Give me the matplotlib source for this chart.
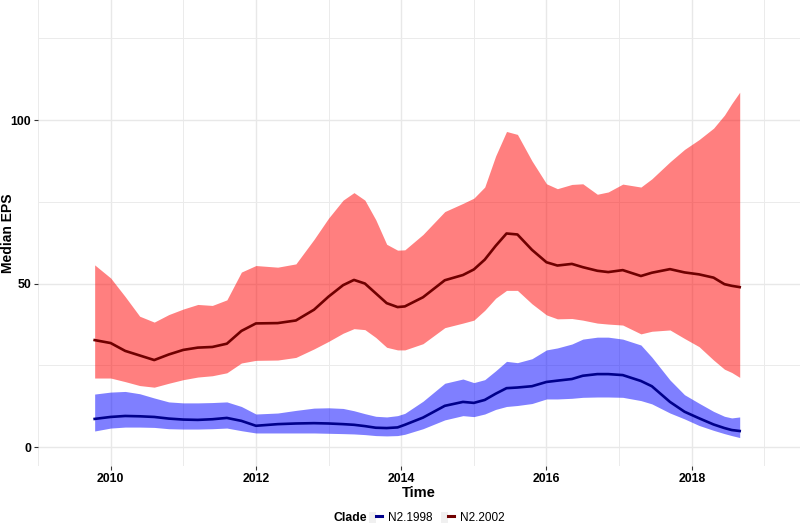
import matplotlib
matplotlib.use("Agg")
import matplotlib.pyplot as plt
from matplotlib.lines import Line2D
from matplotlib.patches import Rectangle
from matplotlib.legend_handler import HandlerTuple
import numpy as np

plt.rcParams['font.family'] = ['Liberation Sans', 'DejaVu Sans']

# time grid (decimal years)
time = [2009.78, 2010.0, 2010.2, 2010.4, 2010.6, 2010.8, 2011.0, 2011.2, 2011.4, 2011.6,
        2011.8, 2012.0, 2012.3, 2012.55, 2012.8, 2013.0, 2013.2, 2013.35, 2013.5, 2013.65,
        2013.8, 2013.95, 2014.05, 2014.3, 2014.6, 2014.85, 2015.0, 2015.15, 2015.3, 2015.45,
        2015.6, 2015.8, 2016.0, 2016.15, 2016.35, 2016.5, 2016.7, 2016.85, 2017.05, 2017.3,
        2017.45, 2017.7, 2017.9, 2018.1, 2018.3, 2018.45, 2018.55, 2018.66]

# N2.2002
n2002_upper = [55.7, 51.7, 46.0, 40.0, 38.2, 40.5, 42.2, 43.6, 43.3, 45.0,
               53.5, 55.5, 55.0, 56.0, 63.5, 70.0, 75.5, 77.8, 75.5, 69.5,
               62.0, 60.2, 60.3, 65.0, 72.0, 74.5, 76.1, 79.5, 89.0, 96.5,
               95.6, 87.5, 80.5, 79.0, 80.3, 80.5, 77.3, 78.0, 80.4, 79.5,
               82.0, 87.2, 91.0, 94.0, 97.5, 101.5, 105.0, 108.5]
n2002_lower = [21.1, 21.1, 20.0, 18.8, 18.3, 19.5, 20.6, 21.4, 21.8, 22.7,
               25.7, 26.5, 26.6, 27.4, 30.0, 32.3, 34.8, 36.2, 35.9, 33.5,
               30.5, 29.7, 29.7, 31.6, 36.5, 37.9, 38.8, 41.8, 45.5, 47.9,
               47.9, 43.8, 40.4, 39.2, 39.3, 38.8, 37.9, 37.6, 37.3, 34.6,
               35.4, 35.8, 33.2, 30.7, 26.6, 23.8, 22.8, 21.3]
n2002_median = [32.7, 31.8, 29.4, 28.0, 26.6, 28.3, 29.7, 30.4, 30.6, 31.6,
                35.5, 37.8, 37.9, 38.7, 42.0, 46.0, 49.5, 51.1, 50.0, 47.0,
                44.0, 42.8, 43.0, 45.8, 51.0, 52.6, 54.3, 57.3, 61.5, 65.3,
                65.0, 60.3, 56.5, 55.5, 56.0, 55.0, 53.9, 53.5, 54.1, 52.3,
                53.3, 54.4, 53.4, 52.8, 51.8, 49.8, 49.3, 48.9]

# N2.1998
n1998_upper = [16.2, 16.8, 17.0, 16.3, 15.0, 13.8, 13.5, 13.5, 13.6, 13.8,
               12.4, 10.1, 10.4, 11.2, 11.9, 12.0, 11.8, 11.1, 10.2, 9.4,
               9.2, 9.6, 10.3, 14.0, 19.5, 20.8, 19.7, 20.6, 23.3, 26.2,
               25.8, 27.0, 29.7, 30.3, 31.5, 33.0, 33.6, 33.6, 33.0, 31.2,
               27.5, 20.5, 16.0, 13.4, 10.9, 9.4, 8.9, 9.2]
n1998_lower = [4.9, 5.8, 6.1, 6.1, 6.0, 5.6, 5.5, 5.5, 5.6, 5.8,
               5.0, 4.3, 4.3, 4.3, 4.3, 4.2, 4.1, 4.0, 3.8, 3.5,
               3.4, 3.5, 3.9, 5.6, 8.3, 9.6, 9.3, 10.1, 11.5, 12.4,
               12.7, 13.3, 14.7, 14.7, 14.9, 15.2, 15.3, 15.3, 15.2, 14.2,
               13.2, 10.4, 8.6, 6.6, 5.1, 4.1, 3.5, 2.9]
n1998_median = [8.6, 9.2, 9.5, 9.4, 9.2, 8.7, 8.4, 8.3, 8.5, 8.9,
                8.0, 6.5, 7.0, 7.2, 7.3, 7.2, 7.0, 6.8, 6.4, 5.9,
                5.8, 6.0, 6.8, 9.0, 12.6, 13.8, 13.5, 14.4, 16.3, 18.0,
                18.2, 18.6, 19.9, 20.3, 20.8, 21.8, 22.3, 22.3, 22.0, 20.2,
                18.6, 13.8, 10.8, 8.8, 6.9, 5.8, 5.2, 4.9]

clades = ['N2.1998', 'N2.2002']
line_colors = ['#00008B', '#700000']
fill_colors = ['#0000FF', '#FF0000']

fig = plt.figure(figsize=(8, 5.26), dpi=100)
ax = fig.add_axes([38/800, 1 - 466/526, 1 - 38/800, 466/526])

series = [(n1998_lower, n1998_upper, n1998_median), (n2002_lower, n2002_upper, n2002_median)]
for (lo, hi, med), lc, fc in zip(series, line_colors, fill_colors):
    ax.fill_between(time, lo, hi, color=fc, alpha=0.5, linewidth=0, zorder=2)
    ax.plot(time, med, color=lc, linewidth=1.9, zorder=3)

ax.set_xlim(2009.19, 2019.49)
ax.set_ylim(-5.8, 136.7)
ax.set_xticks([2010, 2012, 2014, 2016, 2018])
ax.set_xticks([2009, 2011, 2013, 2015, 2017, 2019], minor=True)
ax.set_yticks([0, 50, 100])
ax.set_yticks([25, 75, 125], minor=True)
ax.grid(which='major', color='#E8E8E8', linewidth=1.0, zorder=0)
ax.grid(which='minor', color='#EBEBEB', linewidth=0.7, zorder=0)
ax.set_axisbelow(True)
for s in ax.spines.values():
    s.set_visible(False)
ax.tick_params(which='major', length=3, width=0.8, color='#333333', pad=2,
               labelsize=8.8, labelcolor='black')
ax.tick_params(which='minor', length=0)
for lab in ax.get_xticklabels() + ax.get_yticklabels():
    lab.set_fontweight('bold')

ax.set_xlabel('Time', fontsize=10.5, fontweight='bold', labelpad=1)
fig.text(8/800, 1 - 233/526, 'Median EPS', rotation=90, fontsize=10,
         fontweight='bold', ha='center', va='center')

# legend at bottom
handles = [(Rectangle((0, 0), 1, 1, facecolor='#F0F0F0', edgecolor='none'),
            Line2D([], [], color=c, linewidth=2.2)) for c in line_colors]
fig.legend(handles, clades, handler_map={tuple: HandlerTuple(ndivide=None)},
           loc='center', bbox_to_anchor=(437/800, 1 - 518/526), ncol=2, frameon=False,
           fontsize=8.5, handlelength=1.1, handleheight=1.1, handletextpad=0.5,
           columnspacing=0.7, borderpad=0)
fig.text(333/800, 1 - 518/526, 'Clade', fontsize=8.8, fontweight='bold',
         ha='left', va='center')

fig.savefig('out.png', dpi=100)
